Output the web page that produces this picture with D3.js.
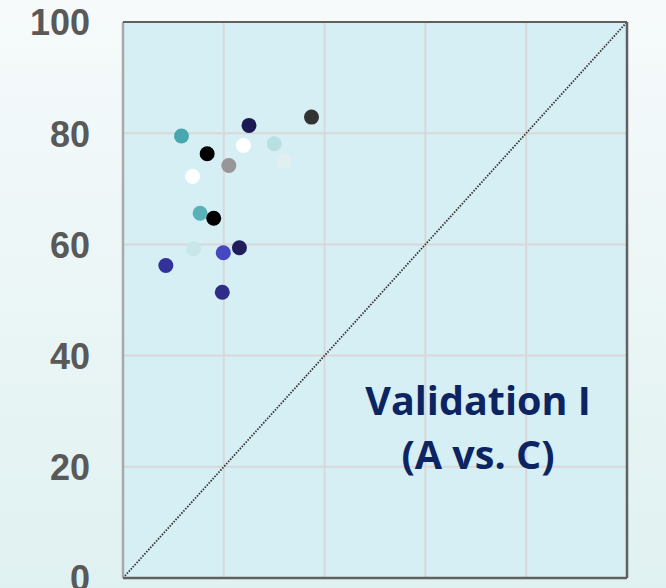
<!DOCTYPE html>
<html>
<head>
<meta charset="utf-8">
<script src="https://cdn.jsdelivr.net/npm/d3@7"></script>
<style>
  html, body { margin: 0; padding: 0; }
  body { width: 666px; height: 588px; overflow: hidden; }
</style>
</head>
<body>
<svg id="chart"></svg>
<script>
// values (x = A, y = C)
var xValues = [11.6, 25.0, 37.4, 30.0, 23.9, 16.7, 31.9, 21.0, 13.8, 15.3, 18.0, 14.0, 23.1, 19.9, 8.5, 19.7];
var yValues = [79.5, 81.4, 82.9, 78.1, 77.8, 76.3, 74.9, 74.2, 72.2, 65.6, 64.7, 59.2, 59.4, 58.5, 56.2, 51.4];
var colors  = ["#49a8af", "#1c1a55", "#333333", "#b8e0e3", "#ffffff", "#000000", "#e1eff0", "#979797",
               "#ffffff", "#5ab1b8", "#000000", "#c9e7e9", "#201e5c", "#4747c2", "#33329a", "#2e2d88"];
var yTicks = [0, 20, 40, 60, 80, 100];
var xGrid = [20, 40, 60, 80];
var titleLines = ["Validation I", "(A vs. C)"];

var size = { width: 666, height: 588 };
var margin = { top: 22, right: 39, bottom: 10, left: 123 };
var width = size.width - margin.left - margin.right;
var height = size.height - margin.top - margin.bottom;

var svg = d3.select("#chart")
  .attr("width", size.width)
  .attr("height", size.height);

// background gradient
var grad = svg.append("defs").append("linearGradient")
  .attr("id", "bg")
  .attr("x1", 0).attr("y1", 0).attr("x2", 0).attr("y2", 1);
grad.append("stop").attr("offset", "0%").attr("stop-color", "#f6fafb");
grad.append("stop").attr("offset", "100%").attr("stop-color", "#e0f1f1");

svg.append("rect")
  .attr("width", size.width)
  .attr("height", size.height)
  .attr("fill", "url(#bg)");

var x = d3.scaleLinear().domain([0, 100]).range([0, width]);
var y = d3.scaleLinear().domain([0, 100]).range([height, 0]);

var g = svg.append("g")
  .attr("transform", "translate(" + margin.left + "," + margin.top + ")");

// plot area
g.append("rect")
  .attr("width", width)
  .attr("height", height)
  .attr("fill", "#d6eff4");

// grid
g.selectAll(".vgrid")
  .data(xGrid)
  .enter().append("line")
  .attr("x1", function(d){ return x(d); })
  .attr("x2", function(d){ return x(d); })
  .attr("y1", 0).attr("y2", height)
  .attr("stroke", "#d8d8d8")
  .attr("stroke-width", 2);

g.selectAll(".hgrid")
  .data(yTicks.filter(function(d){ return d > 0 && d < 100; }))
  .enter().append("line")
  .attr("x1", 0).attr("x2", width)
  .attr("y1", function(d){ return y(d); })
  .attr("y2", function(d){ return y(d); })
  .attr("stroke", "#d8d8d8")
  .attr("stroke-width", 2);

// 1:1 line
g.append("line")
  .attr("x1", x(0)).attr("y1", y(0))
  .attr("x2", x(100)).attr("y2", y(100))
  .attr("stroke", "#333333")
  .attr("stroke-width", 1.8)
  .attr("stroke-dasharray", "1.5,1.4");

// border
g.append("line").attr("x1", 0).attr("x2", 0).attr("y1", 0).attr("y2", height)
  .attr("stroke", "#a9a9a9").attr("stroke-width", 2.5);
g.append("line").attr("x1", 0).attr("x2", width).attr("y1", 0).attr("y2", 0)
  .attr("stroke", "#606060").attr("stroke-width", 2);
g.append("line").attr("x1", width).attr("x2", width).attr("y1", 0).attr("y2", height)
  .attr("stroke", "#606060").attr("stroke-width", 2.5);
g.append("line").attr("x1", 0).attr("x2", width).attr("y1", height).attr("y2", height)
  .attr("stroke", "#606060").attr("stroke-width", 2.5);

// points
g.selectAll("circle")
  .data(xValues)
  .enter().append("circle")
  .attr("cx", function(d){ return x(d); })
  .attr("cy", function(d, i){ return y(yValues[i]); })
  .attr("r", 7.5)
  .attr("fill", function(d, i){ return colors[i]; });

// y axis labels
var yAxis = d3.axisLeft(y)
  .tickValues(yTicks)
  .tickSize(0)
  .tickPadding(33);

g.append("g")
  .call(yAxis)
  .call(function(a){ a.select(".domain").remove(); })
  .selectAll("text")
  .attr("fill", "#595959")
  .attr("font-family", "Liberation Sans, Arial, sans-serif")
  .attr("font-weight", "bold")
  .attr("font-size", "36px")
  .attr("dy", "0.36em");

// annotation
svg.selectAll(".title")
  .data(titleLines)
  .enter().append("text")
  .attr("x", 478)
  .attr("y", function(d, i){ return 415 + i * 54; })
  .attr("text-anchor", "middle")
  .attr("fill", "#0c2461")
  .attr("font-family", "Open Sans, sans-serif")
  .attr("font-weight", "bold")
  .attr("font-size", "39.5px")
  .text(function(d){ return d; });
</script>
</body>
</html>
